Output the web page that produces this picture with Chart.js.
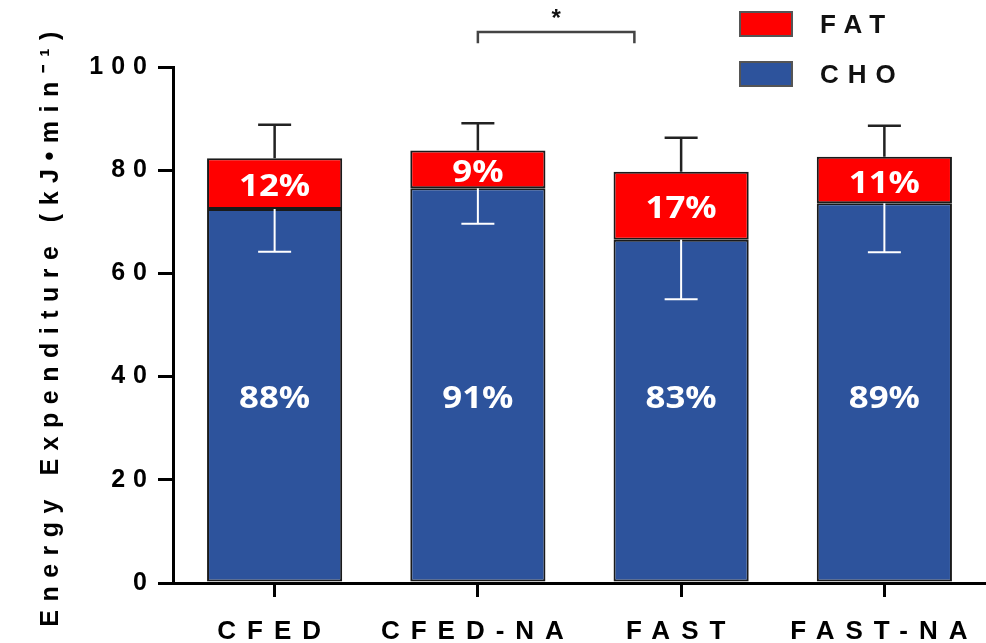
<!DOCTYPE html>
<html>
<head>
<meta charset="utf-8">
<script src="https://cdn.jsdelivr.net/npm/chart.js@4.4.1/dist/chart.umd.min.js"></script>
<style>
  html, body { margin: 0; padding: 0; background: #fff; overflow: hidden; }
  canvas { display: block; }
</style>
</head>
<body>
<canvas id="c" width="986" height="643"></canvas>
<script>
// Energy expenditure split into carbohydrate (CHO) and fat oxidation, kJ·min⁻¹
const categories = ['CFED', 'CFED-NA', 'FAST', 'FAST-NA'];
const choValues  = [72.5, 76.5, 66.5, 73.6];
const fatValues  = [9.8, 7.3, 13.2, 9.0];
// SD of total expenditure (drawn upward) and of CHO (drawn downward)
const totalSD    = [6.5, 5.3, 6.6, 6.0];
const choSD      = [8.3, 6.9, 11.5, 9.5];
const yTicks     = [0, 20, 40, 60, 80, 100];
// significant comparison: CFED-NA vs FAST
const sigPair    = [1, 2];
const sigMark    = '*';

const BLUE = '#2D539C';
const RED = '#FF0000';
const EDGE = '#1a1a1a';
const AXIS_FONT = '"Liberation Sans", Arial, sans-serif';

const pct = (part, i) => Math.round(part / (choValues[i] + fatValues[i]) * 100) + '%';

function stretchedText(ctx, text, x, y, sx) {
  ctx.save();
  ctx.translate(x, y);
  ctx.scale(sx, 1);
  ctx.fillText(text, 0, 0);
  ctx.restore();
}

// wide letter tracking per scale part
function withTracking(scale, method, spacing) {
  const orig = scale[method];
  if (orig._tracked) return;
  const wrapped = function (...args) {
    const ctx = this.ctx;
    ctx.save();
    ctx.letterSpacing = spacing;
    orig.apply(this, args);
    ctx.restore();
  };
  wrapped._tracked = true;
  scale[method] = wrapped;
}
const tracking = {
  id: 'tracking',
  afterLayout(chart) {
    withTracking(chart.scales.x, 'drawLabels', '11px');
    withTracking(chart.scales.y, 'drawLabels', '8px');
    withTracking(chart.scales.y, 'drawTitle', '8.5px');
  }
};

// error bars, percentage labels, significance bracket and legend
const annotations = {
  id: 'annotations',
  afterDatasetsDraw(chart) {
    const ctx = chart.ctx;
    const y = chart.scales.y;
    const x = chart.scales.x;
    const choMeta = chart.getDatasetMeta(0);
    const fatMeta = chart.getDatasetMeta(1);
    const capHalf = 16.5;

    ctx.save();
    ctx.letterSpacing = '0px';
    categories.forEach((_, i) => {
      const cx = choMeta.data[i].x;
      const total = choValues[i] + fatValues[i];
      // upward error bar on the total
      const yTop = y.getPixelForValue(total);
      const yUp = y.getPixelForValue(total + totalSD[i]);
      ctx.strokeStyle = '#222';
      ctx.lineWidth = 2.5;
      ctx.beginPath();
      ctx.moveTo(cx, yTop); ctx.lineTo(cx, yUp);
      ctx.moveTo(cx - capHalf, yUp); ctx.lineTo(cx + capHalf, yUp);
      ctx.stroke();
      // downward error bar on CHO, inside the bar
      const yCho = y.getPixelForValue(choValues[i]);
      const yLow = y.getPixelForValue(choValues[i] - choSD[i]);
      ctx.strokeStyle = '#ffffff';
      ctx.lineWidth = 2;
      ctx.beginPath();
      ctx.moveTo(cx, yCho); ctx.lineTo(cx, yLow);
      ctx.moveTo(cx - capHalf, yLow); ctx.lineTo(cx + capHalf, yLow);
      ctx.stroke();
    });

    // percentage labels
    ctx.fillStyle = '#ffffff';
    ctx.font = 'bold 30px "Open Sans", sans-serif';
    ctx.textAlign = 'center';
    ctx.textBaseline = 'middle';
    categories.forEach((_, i) => {
      const cx = choMeta.data[i].x;
      const fatMid = y.getPixelForValue(choValues[i] + fatValues[i] / 2) + 4;
      stretchedText(ctx, pct(fatValues[i], i), cx, fatMid, 1.16);
      const choMid = y.getPixelForValue(35.5);
      stretchedText(ctx, pct(choValues[i], i), cx, choMid, 1.16);
    });

    // significance bracket
    const catW = x.getPixelForValue(1) - x.getPixelForValue(0);
    const bx1 = x.getPixelForValue(sigPair[0]);
    const bx2 = x.getPixelForValue(sigPair[1]) - 0.23 * catW;
    const byTop = y.getPixelForValue(106.8);
    const byEnd = y.getPixelForValue(104.6);
    ctx.strokeStyle = '#444';
    ctx.lineWidth = 2.5;
    ctx.beginPath();
    ctx.moveTo(bx1, byEnd); ctx.lineTo(bx1, byTop); ctx.lineTo(bx2, byTop); ctx.lineTo(bx2, byEnd);
    ctx.stroke();
    ctx.fillStyle = '#111';
    ctx.font = 'bold 24px ' + AXIS_FONT;
    ctx.textBaseline = 'middle';
    ctx.fillText(sigMark, (bx1 + bx2) / 2, y.getPixelForValue(110) + 4);

    // legend (stack order reversed: FAT on top)
    const items = [fatMeta, choMeta].map(m => chart.data.datasets[m.index]);
    ctx.letterSpacing = '9px';
    ctx.font = 'bold 26px ' + AXIS_FONT;
    ctx.textAlign = 'left';
    items.forEach((ds, k) => {
      const top = 12 + k * 50;
      ctx.fillStyle = ds.backgroundColor;
      ctx.fillRect(740, top, 52, 24);
      ctx.strokeStyle = '#555';
      ctx.lineWidth = 2;
      ctx.strokeRect(740, top, 52, 24);
      ctx.fillStyle = '#111';
      ctx.fillText(ds.label, 820, top + 14);
    });
    ctx.restore();
  }
};

new Chart(document.getElementById('c'), {
  type: 'bar',
  data: {
    labels: categories,
    datasets: [
      { label: 'CHO', data: choValues, backgroundColor: BLUE, borderColor: EDGE, borderWidth: 2, borderSkipped: false },
      { label: 'FAT', data: fatValues, backgroundColor: RED, borderColor: EDGE, borderWidth: 2, borderSkipped: false }
    ]
  },
  options: {
    responsive: false,
    animation: false,
    devicePixelRatio: 1,
    layout: { padding: { top: 67, right: 0, left: 0, bottom: 0 } },
    plugins: { legend: { display: false }, tooltip: { enabled: false } },
    datasets: { bar: { categoryPercentage: 1.0, barPercentage: 0.665 } },
    scales: {
      x: {
        stacked: true,
        offset: true,
        border: { display: true, color: '#000', width: 3 },
        grid: { display: true, offset: false, drawOnChartArea: false, drawTicks: true, tickLength: 14, color: '#000', lineWidth: 3 },
        ticks: { color: '#000', font: { family: AXIS_FONT, size: 26, weight: 'bold' }, padding: 19, maxRotation: 0, autoSkip: false },
        afterFit(s) { s.height = 60; }
      },
      y: {
        stacked: true,
        min: 0,
        max: 100,
        afterBuildTicks(s) { s.ticks = yTicks.map(v => ({ value: v })); },
        border: { display: true, color: '#000', width: 3 },
        grid: { display: true, drawOnChartArea: false, drawTicks: true, tickLength: 15, color: '#000', lineWidth: 3 },
        ticks: { color: '#000', font: { family: AXIS_FONT, size: 25, weight: 'bold' }, padding: 3 },
        title: {
          display: true,
          text: 'Energy Expenditure (kJ•min⁻¹)',
          color: '#000',
          font: { family: AXIS_FONT, size: 25, weight: 'bold' },
          padding: { top: 36, bottom: 0 }
        },
        afterFit(s) { s.width = 173; }
      }
    }
  },
  plugins: [tracking, annotations]
});
</script>
</body>
</html>
